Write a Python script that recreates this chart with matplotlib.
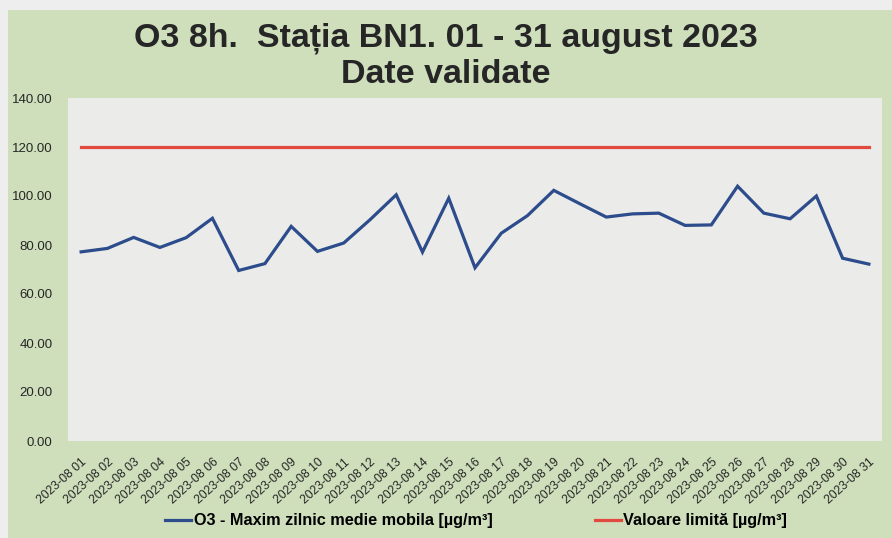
import matplotlib
matplotlib.use("Agg")
import matplotlib.pyplot as plt
from matplotlib.patches import Rectangle

# valori
zile = [f"2023-08 {d:02d}" for d in range(1, 32)]
o3_8h = [77.2, 78.6, 83.1, 79.0, 83.0, 90.9, 69.6, 72.4, 87.6, 77.4,
         80.8, 90.3, 100.5, 77.1, 99.1, 70.7, 84.8, 92.0, 102.3, 96.8,
         91.4, 92.7, 93.0, 88.0, 88.2, 104.0, 93.0, 90.7, 100.0, 74.6, 72.2]
limita = [120.0] * len(zile)
y_ticks = [0, 20, 40, 60, 80, 100, 120, 140]

VERDE = "#cfdfbb"
GRI_PLOT = "#ebebe9"
GRI_MARGINE = "#eeeeee"
ALBASTRU = "#2c4c8c"
ROSU = "#e2493f"
TEXT = "#262626"

plt.rcParams["font.family"] = ["Liberation Sans", "DejaVu Sans"]

fig = plt.figure(figsize=(8.92, 5.38), dpi=100, facecolor=VERDE)
# banda gri de sus si din stanga (scanare)
fig.patches.append(Rectangle((0, 1 - 10 / 538), 1, 10 / 538, transform=fig.transFigure,
                             facecolor=GRI_MARGINE, edgecolor="none", zorder=0))
fig.patches.append(Rectangle((0, 0), 8 / 892, 1, transform=fig.transFigure,
                             facecolor=GRI_MARGINE, edgecolor="none", zorder=0))

ax = fig.add_axes([68 / 892, 97 / 538, 814 / 892, 343 / 538])
ax.set_facecolor(GRI_PLOT)
for s in ax.spines.values():
    s.set_visible(False)

x = list(range(1, len(zile) + 1))
l1, = ax.plot(x, o3_8h, color=ALBASTRU, lw=2.3, solid_joinstyle="miter")
l2, = ax.plot(x, limita, color=ROSU, lw=2.3)

ax.set_xlim(0.5, len(zile) + 0.5)
ax.set_ylim(0, 140)
ax.set_yticks(y_ticks)
ax.set_yticklabels([f"{v:.2f}" for v in y_ticks], fontsize=9.5, color=TEXT)
ax.set_xticks(x)
ax.set_xticklabels(zile, rotation=42, ha="right", rotation_mode="anchor",
                   fontsize=8.7, color=TEXT)
ax.tick_params(axis="y", length=0, pad=11)
ax.tick_params(axis="x", length=0, pad=11)

fig.text(0.5, 0.895, "O3 8h.  Stația BN1. 01 - 31 august 2023\nDate validate",
         ha="center", va="center", fontsize=24.5, fontweight="bold", color=TEXT,
         linespacing=1.22)

fig.legend([l1, l2], ["O3 - Maxim zilnic medie mobila [µg/m³]", "Valoare limită [µg/m³]"],
           loc="center", bbox_to_anchor=(0.534, 0.032), ncol=2, frameon=False,
           prop={"size": 11.7, "weight": "bold"}, handlelength=1.6, handletextpad=0.15,
           columnspacing=6.3)

fig.savefig("out.png", dpi=100, facecolor=VERDE)
